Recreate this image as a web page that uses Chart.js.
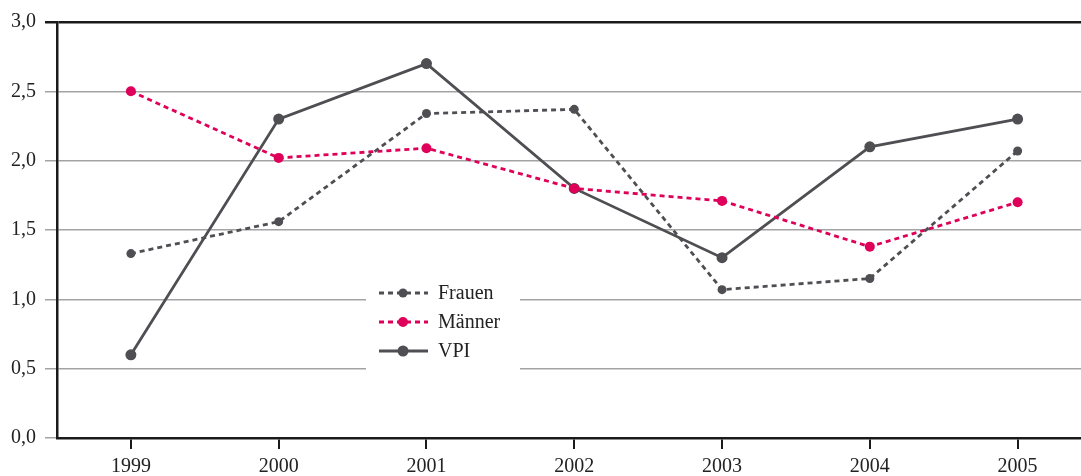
<!DOCTYPE html>
<html>
<head>
<meta charset="utf-8">
<script src="https://cdn.jsdelivr.net/npm/chart.js@4/dist/chart.umd.min.js"></script>
<style>
  html, body { margin: 0; padding: 0; background: #fff; overflow: hidden; }
  #wrap { width: 1097px; height: 476px; }
</style>
</head>
<body>
<div id="wrap"><canvas id="chart" width="1097" height="476"></canvas></div>
<script>
const years = ["1999", "2000", "2001", "2002", "2003", "2004", "2005"];
const frauen = [1.33, 1.56, 2.34, 2.37, 1.07, 1.15, 2.07];
const maenner = [2.50, 2.02, 2.09, 1.80, 1.71, 1.38, 1.70];
const vpi = [0.6, 2.3, 2.7, 1.8, 1.3, 2.1, 2.3];

const GREY = "#4e4e53";
const RED = "#de0059";
const INK = "#1a1a1a";
const FONT = { family: "'Liberation Serif', 'Times New Roman', serif", size: 20 };

// legend drawn inside the plot, on a white patch over the grid
const innerLegend = {
  id: "innerLegend",
  afterDraw(chart) {
    const ctx = chart.ctx;
    ctx.save();
    ctx.fillStyle = "#fff";
    ctx.fillRect(366, 278, 154, 94);
    const rows = [293, 322, 351];
    chart.data.datasets.forEach((ds, i) => {
      const y = rows[i];
      ctx.strokeStyle = ds.borderColor;
      ctx.lineWidth = ds.borderWidth;
      ctx.setLineDash(ds.borderDash || []);
      ctx.beginPath();
      ctx.moveTo(379, y);
      ctx.lineTo(428, y);
      ctx.stroke();
      ctx.setLineDash([]);
      ctx.fillStyle = ds.pointBackgroundColor;
      ctx.beginPath();
      ctx.arc(403, y, ds.pointRadius, 0, Math.PI * 2);
      ctx.fill();
      ctx.fillStyle = "#222";
      ctx.font = FONT.size + "px " + FONT.family;
      ctx.textAlign = "left";
      ctx.textBaseline = "middle";
      ctx.fillText(ds.label, 438, y + 1);
    });
    ctx.restore();
  }
};

new Chart(document.getElementById("chart"), {
  type: "line",
  data: {
    labels: years,
    datasets: [
      {
        label: "Frauen",
        data: frauen,
        borderColor: GREY,
        borderWidth: 2.8,
        borderDash: [5, 4],
        pointRadius: 4.5,
        pointBackgroundColor: GREY,
        pointBorderWidth: 0,
        tension: 0
      },
      {
        label: "Männer",
        data: maenner,
        borderColor: RED,
        borderWidth: 2.8,
        borderDash: [5, 4],
        pointRadius: 5,
        pointBackgroundColor: RED,
        pointBorderWidth: 0,
        tension: 0
      },
      {
        label: "VPI",
        data: vpi,
        borderColor: GREY,
        borderWidth: 2.8,
        pointRadius: 5.5,
        pointBackgroundColor: GREY,
        pointBorderWidth: 0,
        tension: 0
      }
    ]
  },
  options: {
    responsive: false,
    animation: false,
    devicePixelRatio: 1,
    layout: { padding: { top: 22, right: 0, bottom: 0, left: 0 } },
    plugins: {
      legend: { display: false },
      tooltip: { enabled: false }
    },
    scales: {
      x: {
        offset: true,
        afterFit: (scale) => { scale.height = 38; },
        border: { color: INK, width: 2.5 },
        grid: {
          offset: false,
          drawOnChartArea: false,
          drawTicks: true,
          tickLength: 11,
          color: INK,
          lineWidth: 2
        },
        ticks: { color: "#222", font: FONT, padding: 6, maxRotation: 0 }
      },
      y: {
        min: 0,
        max: 3,
        afterFit: (scale) => { scale.width = 57; },
        border: { color: INK, width: 2.5 },
        grid: {
          color: (c) => (c.tick && c.tick.value === 3 ? INK : "#a3a3a3"),
          lineWidth: (c) => (c.tick && c.tick.value === 3 ? 2.5 : 1.5),
          tickLength: 12
        },
        ticks: {
          stepSize: 0.5,
          color: "#222",
          font: FONT,
          padding: 9,
          callback: (v) => v.toFixed(1).replace(".", ",")
        }
      }
    }
  },
  plugins: [innerLegend]
});
</script>
</body>
</html>
